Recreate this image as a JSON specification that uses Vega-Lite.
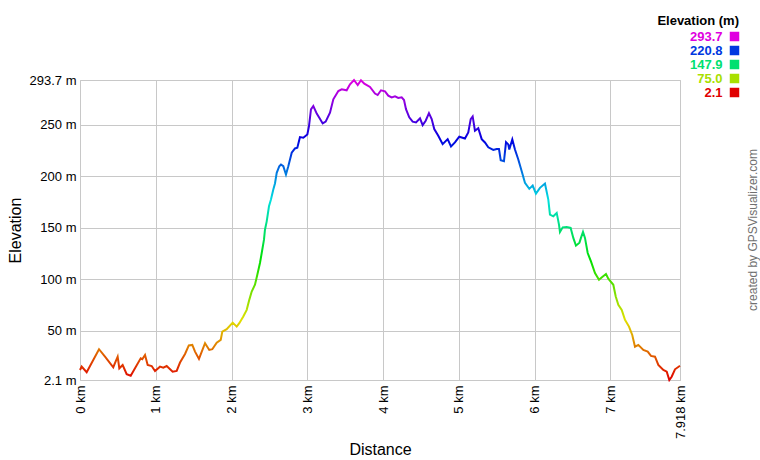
{
  "$schema": "https://vega.github.io/schema/vega-lite/v6.json",
  "width": 600,
  "height": 300,
  "autosize": {"type": "none"},
  "padding": {"left": 80, "top": 80, "right": 80, "bottom": 80},
  "background": "white",
  "config": {
    "font": "Liberation Sans",
    "view": {"stroke": "#c8c8c8", "strokeWidth": 1},
    "axis": {
      "grid": true,
      "gridColor": "#c8c8c8",
      "gridWidth": 1,
      "gridOpacity": 1,
      "domain": false,
      "ticks": false,
      "tickSize": 0,
      "labelFontSize": 13,
      "labelColor": "#000000",
      "labelFlush": false,
      "labelOverlap": false,
      "titleFontSize": 16,
      "titleFontWeight": "normal",
      "titleColor": "#000000"
    }
  },
  "title": {
    "text": "created by GPSVisualizer.com",
    "orient": "right",
    "angle": -90,
    "baseline": "middle",
    "anchor": "middle",
    "offset": 1,
    "fontSize": 12,
    "fontWeight": "normal",
    "color": "#707070"
  },
  "datasets": {
    "profile": [
      {"distance_km": 0.000, "elevation_m": 11.8},
      {"distance_km": 0.022, "elevation_m": 15.1},
      {"distance_km": 0.088, "elevation_m": 9.6},
      {"distance_km": 0.251, "elevation_m": 32.0},
      {"distance_km": 0.330, "elevation_m": 24.8},
      {"distance_km": 0.439, "elevation_m": 14.5},
      {"distance_km": 0.497, "elevation_m": 24.8},
      {"distance_km": 0.519, "elevation_m": 13.5},
      {"distance_km": 0.563, "elevation_m": 16.7},
      {"distance_km": 0.616, "elevation_m": 7.7},
      {"distance_km": 0.669, "elevation_m": 6.3},
      {"distance_km": 0.801, "elevation_m": 23.2},
      {"distance_km": 0.822, "elevation_m": 22.3},
      {"distance_km": 0.858, "elevation_m": 26.5},
      {"distance_km": 0.893, "elevation_m": 16.7},
      {"distance_km": 0.946, "elevation_m": 15.7},
      {"distance_km": 0.990, "elevation_m": 10.9},
      {"distance_km": 1.056, "elevation_m": 15.1},
      {"distance_km": 1.099, "elevation_m": 14.1},
      {"distance_km": 1.144, "elevation_m": 15.7},
      {"distance_km": 1.223, "elevation_m": 10.2},
      {"distance_km": 1.276, "elevation_m": 10.9},
      {"distance_km": 1.320, "elevation_m": 19.1},
      {"distance_km": 1.386, "elevation_m": 27.4},
      {"distance_km": 1.436, "elevation_m": 35.7},
      {"distance_km": 1.482, "elevation_m": 36.2},
      {"distance_km": 1.518, "elevation_m": 29.7},
      {"distance_km": 1.570, "elevation_m": 22.6},
      {"distance_km": 1.650, "elevation_m": 37.9},
      {"distance_km": 1.706, "elevation_m": 31.3},
      {"distance_km": 1.746, "elevation_m": 32.0},
      {"distance_km": 1.804, "elevation_m": 38.4},
      {"distance_km": 1.857, "elevation_m": 41.1},
      {"distance_km": 1.878, "elevation_m": 49.2},
      {"distance_km": 1.936, "elevation_m": 51.5},
      {"distance_km": 2.015, "elevation_m": 57.9},
      {"distance_km": 2.068, "elevation_m": 54.0},
      {"distance_km": 2.102, "elevation_m": 57.3},
      {"distance_km": 2.155, "elevation_m": 63.8},
      {"distance_km": 2.200, "elevation_m": 70.3},
      {"distance_km": 2.234, "elevation_m": 80.0},
      {"distance_km": 2.266, "elevation_m": 88.1},
      {"distance_km": 2.309, "elevation_m": 94.7},
      {"distance_km": 2.340, "elevation_m": 104.4},
      {"distance_km": 2.375, "elevation_m": 115.8},
      {"distance_km": 2.398, "elevation_m": 125.5},
      {"distance_km": 2.428, "elevation_m": 138.5},
      {"distance_km": 2.441, "elevation_m": 148.2},
      {"distance_km": 2.464, "elevation_m": 156.3},
      {"distance_km": 2.494, "elevation_m": 170.9},
      {"distance_km": 2.520, "elevation_m": 177.5},
      {"distance_km": 2.551, "elevation_m": 187.2},
      {"distance_km": 2.573, "elevation_m": 193.1},
      {"distance_km": 2.596, "elevation_m": 203.5},
      {"distance_km": 2.630, "elevation_m": 209.9},
      {"distance_km": 2.652, "elevation_m": 211.6},
      {"distance_km": 2.683, "elevation_m": 209.9},
      {"distance_km": 2.718, "elevation_m": 201.8},
      {"distance_km": 2.749, "elevation_m": 209.9},
      {"distance_km": 2.794, "elevation_m": 223.0},
      {"distance_km": 2.837, "elevation_m": 227.2},
      {"distance_km": 2.868, "elevation_m": 227.8},
      {"distance_km": 2.903, "elevation_m": 238.2},
      {"distance_km": 2.947, "elevation_m": 237.6},
      {"distance_km": 3.000, "elevation_m": 240.8},
      {"distance_km": 3.022, "elevation_m": 248.9},
      {"distance_km": 3.048, "elevation_m": 265.2},
      {"distance_km": 3.079, "elevation_m": 268.4},
      {"distance_km": 3.124, "elevation_m": 261.0},
      {"distance_km": 3.158, "elevation_m": 257.1},
      {"distance_km": 3.203, "elevation_m": 251.5},
      {"distance_km": 3.242, "elevation_m": 253.2},
      {"distance_km": 3.299, "elevation_m": 261.9},
      {"distance_km": 3.343, "elevation_m": 274.9},
      {"distance_km": 3.409, "elevation_m": 283.0},
      {"distance_km": 3.453, "elevation_m": 284.6},
      {"distance_km": 3.519, "elevation_m": 283.7},
      {"distance_km": 3.563, "elevation_m": 289.5},
      {"distance_km": 3.616, "elevation_m": 293.7},
      {"distance_km": 3.665, "elevation_m": 288.8},
      {"distance_km": 3.708, "elevation_m": 293.5},
      {"distance_km": 3.752, "elevation_m": 290.2},
      {"distance_km": 3.827, "elevation_m": 286.9},
      {"distance_km": 3.893, "elevation_m": 280.5},
      {"distance_km": 3.928, "elevation_m": 279.1},
      {"distance_km": 3.972, "elevation_m": 283.7},
      {"distance_km": 4.025, "elevation_m": 282.7},
      {"distance_km": 4.068, "elevation_m": 278.5},
      {"distance_km": 4.113, "elevation_m": 276.8},
      {"distance_km": 4.157, "elevation_m": 277.8},
      {"distance_km": 4.200, "elevation_m": 276.2},
      {"distance_km": 4.245, "elevation_m": 276.8},
      {"distance_km": 4.276, "elevation_m": 274.2},
      {"distance_km": 4.302, "elevation_m": 265.4},
      {"distance_km": 4.345, "elevation_m": 257.4},
      {"distance_km": 4.390, "elevation_m": 253.2},
      {"distance_km": 4.434, "elevation_m": 252.5},
      {"distance_km": 4.487, "elevation_m": 256.4},
      {"distance_km": 4.522, "elevation_m": 249.9},
      {"distance_km": 4.562, "elevation_m": 254.1},
      {"distance_km": 4.605, "elevation_m": 261.5},
      {"distance_km": 4.641, "elevation_m": 255.7},
      {"distance_km": 4.675, "elevation_m": 246.0},
      {"distance_km": 4.728, "elevation_m": 239.5},
      {"distance_km": 4.786, "elevation_m": 231.3},
      {"distance_km": 4.852, "elevation_m": 236.2},
      {"distance_km": 4.896, "elevation_m": 229.1},
      {"distance_km": 4.948, "elevation_m": 233.0},
      {"distance_km": 5.005, "elevation_m": 238.6},
      {"distance_km": 5.080, "elevation_m": 236.9},
      {"distance_km": 5.124, "elevation_m": 242.7},
      {"distance_km": 5.156, "elevation_m": 255.7},
      {"distance_km": 5.182, "elevation_m": 258.3},
      {"distance_km": 5.212, "elevation_m": 244.4},
      {"distance_km": 5.256, "elevation_m": 246.9},
      {"distance_km": 5.301, "elevation_m": 236.2},
      {"distance_km": 5.344, "elevation_m": 233.0},
      {"distance_km": 5.388, "elevation_m": 228.3},
      {"distance_km": 5.454, "elevation_m": 225.7},
      {"distance_km": 5.499, "elevation_m": 226.7},
      {"distance_km": 5.529, "elevation_m": 226.7},
      {"distance_km": 5.552, "elevation_m": 215.8},
      {"distance_km": 5.595, "elevation_m": 214.8},
      {"distance_km": 5.622, "elevation_m": 233.3},
      {"distance_km": 5.652, "elevation_m": 231.1},
      {"distance_km": 5.665, "elevation_m": 226.2},
      {"distance_km": 5.705, "elevation_m": 235.9},
      {"distance_km": 5.740, "elevation_m": 226.2},
      {"distance_km": 5.784, "elevation_m": 216.4},
      {"distance_km": 5.829, "elevation_m": 205.0},
      {"distance_km": 5.872, "elevation_m": 193.7},
      {"distance_km": 5.929, "elevation_m": 187.9},
      {"distance_km": 5.974, "elevation_m": 191.1},
      {"distance_km": 6.017, "elevation_m": 183.3},
      {"distance_km": 6.070, "elevation_m": 188.9},
      {"distance_km": 6.136, "elevation_m": 193.1},
      {"distance_km": 6.180, "elevation_m": 177.5},
      {"distance_km": 6.202, "elevation_m": 162.9},
      {"distance_km": 6.246, "elevation_m": 161.2},
      {"distance_km": 6.291, "elevation_m": 164.5},
      {"distance_km": 6.321, "elevation_m": 153.1},
      {"distance_km": 6.334, "elevation_m": 146.0},
      {"distance_km": 6.370, "elevation_m": 150.5},
      {"distance_km": 6.423, "elevation_m": 150.9},
      {"distance_km": 6.475, "elevation_m": 149.9},
      {"distance_km": 6.510, "elevation_m": 140.2},
      {"distance_km": 6.545, "elevation_m": 132.7},
      {"distance_km": 6.591, "elevation_m": 135.6},
      {"distance_km": 6.611, "elevation_m": 140.2},
      {"distance_km": 6.638, "elevation_m": 146.0},
      {"distance_km": 6.664, "elevation_m": 140.2},
      {"distance_km": 6.700, "elevation_m": 125.5},
      {"distance_km": 6.743, "elevation_m": 117.4},
      {"distance_km": 6.796, "elevation_m": 106.1},
      {"distance_km": 6.849, "elevation_m": 99.5},
      {"distance_km": 6.892, "elevation_m": 102.2},
      {"distance_km": 6.941, "elevation_m": 105.1},
      {"distance_km": 6.972, "elevation_m": 100.5},
      {"distance_km": 7.038, "elevation_m": 94.7},
      {"distance_km": 7.070, "elevation_m": 83.3},
      {"distance_km": 7.104, "elevation_m": 75.2},
      {"distance_km": 7.149, "elevation_m": 70.3},
      {"distance_km": 7.192, "elevation_m": 60.6},
      {"distance_km": 7.245, "elevation_m": 54.0},
      {"distance_km": 7.288, "elevation_m": 45.9},
      {"distance_km": 7.324, "elevation_m": 34.5},
      {"distance_km": 7.368, "elevation_m": 36.2},
      {"distance_km": 7.434, "elevation_m": 31.3},
      {"distance_km": 7.492, "elevation_m": 29.7},
      {"distance_km": 7.535, "elevation_m": 25.5},
      {"distance_km": 7.588, "elevation_m": 24.8},
      {"distance_km": 7.632, "elevation_m": 16.7},
      {"distance_km": 7.698, "elevation_m": 11.8},
      {"distance_km": 7.743, "elevation_m": 10.2},
      {"distance_km": 7.777, "elevation_m": 2.1},
      {"distance_km": 7.808, "elevation_m": 5.3},
      {"distance_km": 7.852, "elevation_m": 12.5},
      {"distance_km": 7.918, "elevation_m": 16.0}
    ],
    "legend": [
      {"legend_value": "293.7"},
      {"legend_value": "220.8"},
      {"legend_value": "147.9"},
      {"legend_value": "75.0"},
      {"legend_value": "2.1"}
    ]
  },
  "layer": [
    {
      "data": {"name": "profile"},
      "mark": {
        "type": "line",
        "strokeWidth": 2,
        "stroke": {
          "gradient": "linear",
          "x1": 0, "y1": 1, "x2": 0, "y2": 0,
          "stops": [
            {"offset": 0, "color": "#e00000"},
            {"offset": 0.2, "color": "#e0e000"},
            {"offset": 0.4, "color": "#00e000"},
            {"offset": 0.6, "color": "#00e0e0"},
            {"offset": 0.8, "color": "#0000e0"},
            {"offset": 1, "color": "#e000e0"}
          ]
        }
      },
      "encoding": {
        "x": {
          "field": "distance_km",
          "type": "quantitative",
          "scale": {"domain": [0, 7.918], "nice": false, "zero": false},
          "axis": {
            "title": "Distance",
            "values": [0, 1, 2, 3, 4, 5, 6, 7, 7.918],
            "labelExpr": "datum.value + ' km'",
            "labelAngle": 270,
            "labelPadding": 5,
            "titlePadding": 3
          }
        },
        "y": {
          "field": "elevation_m",
          "type": "quantitative",
          "scale": {"domain": [2.1, 293.7], "nice": false, "zero": false},
          "axis": {
            "title": "Elevation",
            "values": [2.1, 50, 100, 150, 200, 250, 293.7],
            "labelExpr": "datum.value + ' m'",
            "labelPadding": 4,
            "titlePadding": 6
          }
        }
      }
    },
    {
      "data": {"name": "legend"},
      "mark": {"type": "square", "opacity": 0},
      "encoding": {
        "color": {
          "field": "legend_value",
          "type": "nominal",
          "scale": {
            "domain": ["293.7", "220.8", "147.9", "75.0", "2.1"],
            "range": ["#e000e0", "#0038e0", "#00e070", "#a8e000", "#e00000"]
          },
          "legend": {
            "orient": "none",
            "legendX": 577,
            "legendY": -65,
            "padding": 0,
            "title": "Elevation (m)",
            "titleFontSize": 13,
            "titleFontWeight": "bold",
            "titleColor": "#000000",
            "titleAnchor": "end",
            "titleAlign": "right",
            "titlePadding": 2,
            "symbolType": "square",
            "symbolSize": 90,
            "symbolStrokeWidth": 0,
            "symbolOpacity": 1,
            "labelFontSize": 13,
            "labelFontWeight": "bold",
            "labelAlign": "right",
            "labelOffset": -18.5,
            "labelLimit": 200,
            "labelColor": {"expr": "scale('color', datum.value)"},
            "labelExpr": "substring('\u00a0\u00a0\u00a0\u00a0\u00a0\u00a0\u00a0\u00a0\u00a0\u00a0\u00a0\u00a0\u00a0', 0, 19 - 2 * length(datum.label)) + datum.label",
            "rowPadding": 0
          }
        }
      }
    }
  ]
}
